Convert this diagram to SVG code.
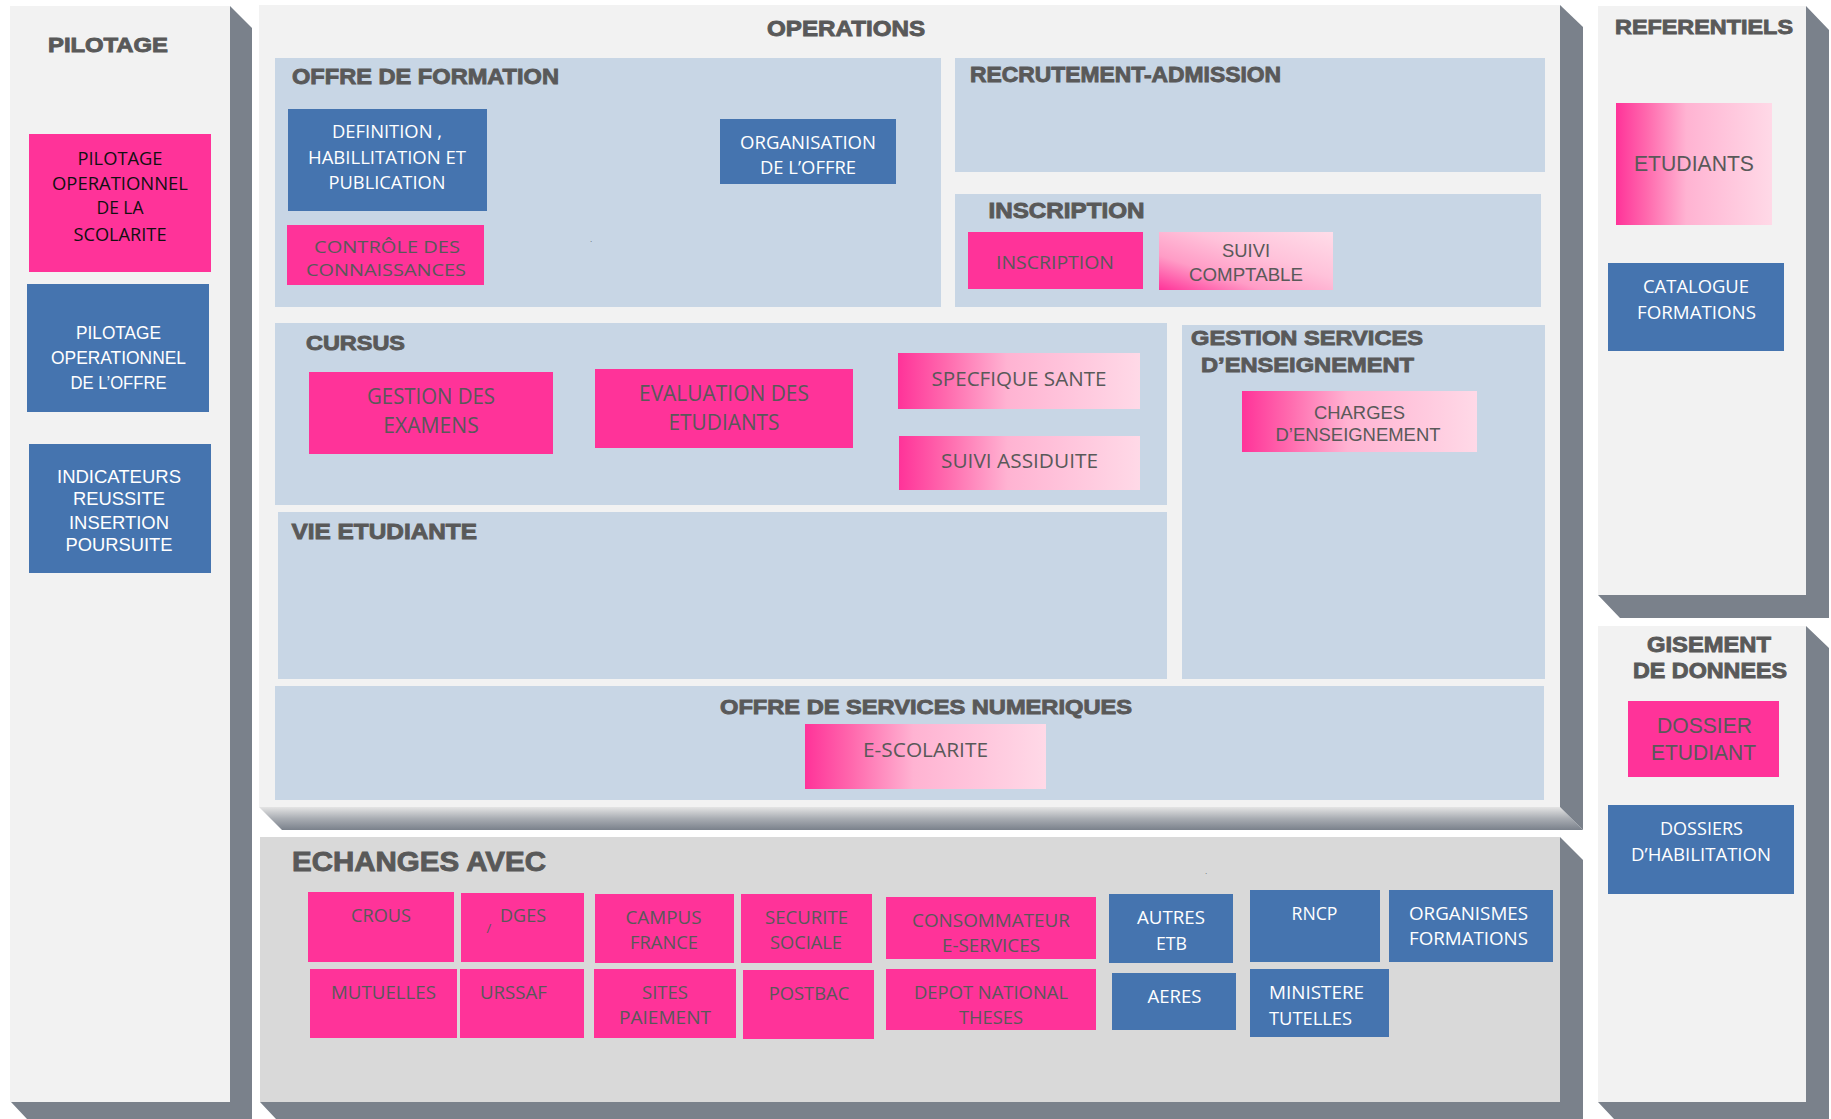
<svg xmlns="http://www.w3.org/2000/svg" width="1831" height="1119" viewBox="0 0 1831 1119">
<defs>
<linearGradient id="gh" x1="0" y1="0" x2="1" y2="0">
<stop offset="0" stop-color="#ff3399"/><stop offset="0.2" stop-color="#ff6aae"/><stop offset="0.45" stop-color="#ffb3d2"/><stop offset="1" stop-color="#ffd9e7"/>
</linearGradient>
<linearGradient id="gd" x1="0" y1="1" x2="1" y2="0">
<stop offset="0" stop-color="#ff3399"/><stop offset="0.3" stop-color="#ff9cc6"/><stop offset="0.6" stop-color="#ffc2da"/><stop offset="1" stop-color="#ffdde9"/>
</linearGradient>
<linearGradient id="gb" x1="0" y1="0" x2="0" y2="1">
<stop offset="0" stop-color="#e4e4e4"/><stop offset="0.5" stop-color="#a9adb3"/><stop offset="1" stop-color="#7a818b"/>
</linearGradient>
<style>
.panel{fill:#f2f2f2}
.shadow{fill:#7a818b}
.sub{fill:#c8d6e5}
.pink{fill:#ff3399}
.blue{fill:#4574af}
.ech{fill:#d9d9d9}
.t{font-family:"Liberation Sans",Arial,sans-serif;font-weight:bold;fill:#595959;stroke:#595959;stroke-width:0.9}
.c{font-family:"Open Sans","Liberation Sans",sans-serif}
.a{font-family:"Liberation Sans",Arial,sans-serif}
.m{text-anchor:middle}
.w{fill:#ffffff}
.g{fill:#595959}
.k{fill:#111111}
</style>
</defs>
<rect width="1831" height="1119" fill="#ffffff"/>

<g id="pilotage">
<polygon class="shadow" points="230,6 252,28 252,1119 27,1119 11,1102 230,1102"/>
<rect class="panel" x="10" y="6" width="220" height="1096"/>
<text class="t" x="48" y="52" font-size="21" textLength="120" lengthAdjust="spacingAndGlyphs">PILOTAGE</text>
</g>
<g id="pilotage-scolarite">
<rect class="pink" x="29" y="134" width="182" height="138"/>
<g class="c k m" font-size="18">
<text x="120" y="164.5" textLength="85" lengthAdjust="spacingAndGlyphs">PILOTAGE</text>
<text x="120" y="190" textLength="136" lengthAdjust="spacingAndGlyphs">OPERATIONNEL</text>
<text x="120" y="214" textLength="47" lengthAdjust="spacingAndGlyphs">DE LA</text>
<text x="120" y="241" textLength="93" lengthAdjust="spacingAndGlyphs">SCOLARITE</text>
</g>
</g>
<g id="pilotage-offre">
<rect class="blue" x="27" y="284" width="182" height="128"/>
<g class="a w m" font-size="17.5">
<text x="118.5" y="339" textLength="85" lengthAdjust="spacingAndGlyphs">PILOTAGE</text>
<text x="118.5" y="364" textLength="135" lengthAdjust="spacingAndGlyphs">OPERATIONNEL</text>
<text x="118.5" y="389" textLength="96" lengthAdjust="spacingAndGlyphs">DE L’OFFRE</text>
</g>
</g>
<g id="indicateurs">
<rect class="blue" x="29" y="444" width="182" height="129"/>
<g class="a w m" font-size="18">
<text x="119" y="483" textLength="124" lengthAdjust="spacingAndGlyphs">INDICATEURS</text>
<text x="119" y="505" textLength="92" lengthAdjust="spacingAndGlyphs">REUSSITE</text>
<text x="119" y="529" textLength="100" lengthAdjust="spacingAndGlyphs">INSERTION</text>
<text x="119" y="551" textLength="107" lengthAdjust="spacingAndGlyphs">POURSUITE</text>
</g>
</g>

<g id="operations">
<polygon fill="url(#gb)" points="259,807 1560,807 1583,830 282,830"/>
<polygon class="shadow" points="1560,5 1583,27 1583,830 1560,807"/>
<rect class="panel" x="259" y="5" width="1301" height="802"/>
<text class="t" x="767" y="36" font-size="22" textLength="158" lengthAdjust="spacingAndGlyphs">OPERATIONS</text>
</g>

<g id="offre-formation">
<rect class="sub" x="275" y="58" width="666" height="249"/>
<text class="t" x="292" y="84" font-size="22" textLength="267" lengthAdjust="spacingAndGlyphs">OFFRE DE FORMATION</text>
<text class="a g" x="590" y="242" font-size="8">.</text>
</g>
<g id="definition">
<rect class="blue" x="288" y="109" width="199" height="102"/>
<g class="c w m" font-size="19">
<text x="387" y="138" textLength="110" lengthAdjust="spacingAndGlyphs">DEFINITION ,</text>
<text x="387" y="164" textLength="158" lengthAdjust="spacingAndGlyphs">HABILLITATION ET</text>
<text x="387" y="189" textLength="117" lengthAdjust="spacingAndGlyphs">PUBLICATION</text>
</g>
</g>
<g id="organisation">
<rect class="blue" x="720" y="119" width="176" height="65"/>
<g class="c w m" font-size="19">
<text x="808" y="149" textLength="136" lengthAdjust="spacingAndGlyphs">ORGANISATION</text>
<text x="808" y="174" textLength="96" lengthAdjust="spacingAndGlyphs">DE L’OFFRE</text>
</g>
</g>
<g id="controle">
<rect class="pink" x="287" y="225" width="197" height="60"/>
<g class="c g m" font-size="17">
<text x="387" y="252.5" textLength="146" lengthAdjust="spacingAndGlyphs">CONTRÔLE DES</text>
<text x="386" y="276" textLength="160" lengthAdjust="spacingAndGlyphs">CONNAISSANCES</text>
</g>
</g>

<g id="recrutement">
<rect class="sub" x="955" y="58" width="590" height="114"/>
<text class="t" x="970" y="82" font-size="22" textLength="311" lengthAdjust="spacingAndGlyphs">RECRUTEMENT-ADMISSION</text>
</g>

<g id="inscription-panel">
<rect class="sub" x="955" y="194" width="586" height="113"/>
<text class="t" x="988.5" y="218" font-size="22" textLength="156" lengthAdjust="spacingAndGlyphs">INSCRIPTION</text>
</g>
<g id="inscription">
<rect class="pink" x="968" y="232" width="175" height="57"/>
<text class="c g m" x="1055" y="269" font-size="18.5" textLength="118" lengthAdjust="spacingAndGlyphs">INSCRIPTION</text>
</g>
<g id="suivi-comptable">
<rect fill="url(#gd)" x="1159" y="232" width="174" height="58"/>
<g class="a g m" font-size="18">
<text x="1246" y="257" textLength="48" lengthAdjust="spacingAndGlyphs">SUIVI</text>
<text x="1246" y="281" textLength="114" lengthAdjust="spacingAndGlyphs">COMPTABLE</text>
</g>
</g>

<g id="cursus">
<rect class="sub" x="275" y="323" width="892" height="182"/>
<text class="t" x="306" y="350" font-size="21" textLength="99" lengthAdjust="spacingAndGlyphs">CURSUS</text>
</g>
<g id="gestion-examens">
<rect class="pink" x="309" y="372" width="244" height="82"/>
<g class="c g m" font-size="21">
<text x="431" y="404" textLength="128" lengthAdjust="spacingAndGlyphs">GESTION DES</text>
<text x="431" y="433" textLength="95.5" lengthAdjust="spacingAndGlyphs">EXAMENS</text>
</g>
</g>
<g id="evaluation">
<rect class="pink" x="595" y="369" width="258" height="79"/>
<g class="c g m" font-size="21">
<text x="724" y="401" textLength="170" lengthAdjust="spacingAndGlyphs">EVALUATION DES</text>
<text x="724" y="430" textLength="111" lengthAdjust="spacingAndGlyphs">ETUDIANTS</text>
</g>
</g>
<g id="specifique-sante">
<rect fill="url(#gh)" x="898" y="353" width="242" height="56"/>
<text class="c g m" x="1019" y="386" font-size="20" textLength="175" lengthAdjust="spacingAndGlyphs">SPECFIQUE SANTE</text>
</g>
<g id="suivi-assiduite">
<rect fill="url(#gh)" x="899" y="436" width="241" height="54"/>
<text class="c g m" x="1019.5" y="468" font-size="20" textLength="157" lengthAdjust="spacingAndGlyphs">SUIVI ASSIDUITE</text>
</g>

<g id="vie-etudiante">
<rect class="sub" x="278" y="512" width="889" height="167"/>
<text class="t" x="291.5" y="539" font-size="22" textLength="185.5" lengthAdjust="spacingAndGlyphs">VIE ETUDIANTE</text>
</g>

<g id="gestion-services">
<rect class="sub" x="1182" y="325" width="363" height="354"/>
<text class="t" x="1191" y="345" font-size="21" textLength="232" lengthAdjust="spacingAndGlyphs">GESTION SERVICES</text>
<text class="t" x="1201" y="372" font-size="21" textLength="213" lengthAdjust="spacingAndGlyphs">D’ENSEIGNEMENT</text>
</g>
<g id="charges">
<rect fill="url(#gh)" x="1242" y="391" width="235" height="61"/>
<g class="a g m" font-size="18.5">
<text x="1359.5" y="419" textLength="91" lengthAdjust="spacingAndGlyphs">CHARGES</text>
<text x="1358" y="441" textLength="165" lengthAdjust="spacingAndGlyphs">D’ENSEIGNEMENT</text>
</g>
</g>

<g id="offre-services">
<rect class="sub" x="275" y="686" width="1269" height="114"/>
<text class="t m" x="926" y="714" font-size="21" textLength="412" lengthAdjust="spacingAndGlyphs">OFFRE DE SERVICES NUMERIQUES</text>
</g>
<g id="e-scolarite">
<rect fill="url(#gh)" x="805" y="724" width="241" height="65"/>
<text class="c g m" x="925.5" y="757" font-size="20" textLength="125" lengthAdjust="spacingAndGlyphs">E-SCOLARITE</text>
</g>

<g id="echanges">
<polygon class="shadow" points="1560,837 1583,860 1583,1119 276,1119 260,1102 1560,1102"/>
<rect class="ech" x="260" y="837" width="1300" height="265"/>
<text class="t" x="292" y="871" font-size="27" textLength="254" lengthAdjust="spacingAndGlyphs">ECHANGES AVEC</text>
<text class="a g" x="1205" y="874" font-size="8">.</text>
</g>
<g class="c g m" font-size="19">
<g id="crous"><rect class="pink" x="308" y="892" width="146" height="70"/><text x="381" y="922" textLength="60" lengthAdjust="spacingAndGlyphs">CROUS</text></g>
<g id="dges"><rect class="pink" x="461" y="893" width="123" height="69"/><text x="489" y="933" font-size="13">/</text><text x="523" y="922" textLength="46" lengthAdjust="spacingAndGlyphs">DGES</text></g>
<g id="campus-france"><rect class="pink" x="595" y="894" width="139" height="69"/><text x="663.5" y="924" textLength="76" lengthAdjust="spacingAndGlyphs">CAMPUS</text><text x="664" y="949" textLength="68" lengthAdjust="spacingAndGlyphs">FRANCE</text></g>
<g id="securite-sociale"><rect class="pink" x="741" y="894" width="131" height="69"/><text x="806.5" y="924" textLength="83" lengthAdjust="spacingAndGlyphs">SECURITE</text><text x="806" y="949" textLength="72" lengthAdjust="spacingAndGlyphs">SOCIALE</text></g>
<g id="consommateur"><rect class="pink" x="886" y="897" width="210" height="62"/><text x="991" y="927" textLength="158" lengthAdjust="spacingAndGlyphs">CONSOMMATEUR</text><text x="991" y="952" textLength="98" lengthAdjust="spacingAndGlyphs">E-SERVICES</text></g>
<g id="mutuelles"><rect class="pink" x="310" y="969" width="147" height="69"/><text x="383.5" y="999" textLength="105" lengthAdjust="spacingAndGlyphs">MUTUELLES</text></g>
<g id="urssaf"><rect class="pink" x="460" y="969" width="124" height="69"/><text x="513.5" y="999" textLength="67" lengthAdjust="spacingAndGlyphs">URSSAF</text></g>
<g id="sites-paiement"><rect class="pink" x="594" y="969" width="142" height="69"/><text x="665" y="999" textLength="46" lengthAdjust="spacingAndGlyphs">SITES</text><text x="665" y="1024" textLength="92" lengthAdjust="spacingAndGlyphs">PAIEMENT</text></g>
<g id="postbac"><rect class="pink" x="743" y="970" width="131" height="69"/><text x="809" y="1000" textLength="80.5" lengthAdjust="spacingAndGlyphs">POSTBAC</text></g>
<g id="depot-theses"><rect class="pink" x="886" y="969" width="210" height="61"/><text x="991" y="999" textLength="154" lengthAdjust="spacingAndGlyphs">DEPOT NATIONAL</text><text x="991" y="1024" textLength="64" lengthAdjust="spacingAndGlyphs">THESES</text></g>
</g>
<g class="c w" font-size="19">
<g id="autres-etb" class="m"><rect class="blue" x="1109" y="894" width="124" height="69"/><text x="1171" y="924" textLength="68" lengthAdjust="spacingAndGlyphs">AUTRES</text><text x="1171.5" y="950" textLength="31" lengthAdjust="spacingAndGlyphs">ETB</text></g>
<g id="aeres" class="m"><rect class="blue" x="1112" y="973" width="124" height="57"/><text x="1174.5" y="1003" textLength="54" lengthAdjust="spacingAndGlyphs">AERES</text></g>
<g id="rncp" class="m"><rect class="blue" x="1250" y="890" width="130" height="72"/><text x="1314.5" y="920" textLength="46" lengthAdjust="spacingAndGlyphs">RNCP</text></g>
<g id="organismes"><rect class="blue" x="1389" y="890" width="164" height="72"/><text x="1409" y="920" textLength="119" lengthAdjust="spacingAndGlyphs">ORGANISMES</text><text x="1409" y="945" textLength="119" lengthAdjust="spacingAndGlyphs">FORMATIONS</text></g>
<g id="ministere"><rect class="blue" x="1250" y="969" width="139" height="68"/><text x="1269" y="999" textLength="95" lengthAdjust="spacingAndGlyphs">MINISTERE</text><text x="1269" y="1025" textLength="83" lengthAdjust="spacingAndGlyphs">TUTELLES</text></g>
</g>

<g id="referentiels">
<polygon class="shadow" points="1806,6 1829,30 1829,618 1620,618 1598,595 1806,595"/>
<rect class="panel" x="1598" y="6" width="208" height="589"/>
<text class="t" x="1615" y="34" font-size="21" textLength="178" lengthAdjust="spacingAndGlyphs">REFERENTIELS</text>
</g>
<g id="etudiants">
<rect fill="url(#gh)" x="1616" y="103" width="156" height="122"/>
<text class="a g m" x="1694" y="171" font-size="21.5" textLength="120" lengthAdjust="spacingAndGlyphs">ETUDIANTS</text>
</g>
<g id="catalogue">
<rect class="blue" x="1608" y="263" width="176" height="88"/>
<g class="c w m" font-size="19">
<text x="1696" y="293" textLength="106" lengthAdjust="spacingAndGlyphs">CATALOGUE</text>
<text x="1696.5" y="319" textLength="119" lengthAdjust="spacingAndGlyphs">FORMATIONS</text>
</g>
</g>

<g id="gisement">
<polygon class="shadow" points="1806,626 1829,648 1829,1119 1614,1119 1598,1102 1806,1102"/>
<rect class="panel" x="1598" y="626" width="208" height="476"/>
<text class="t" x="1647" y="652" font-size="22" textLength="124" lengthAdjust="spacingAndGlyphs">GISEMENT</text>
<text class="t" x="1633" y="678" font-size="22" textLength="154" lengthAdjust="spacingAndGlyphs">DE DONNEES</text>
</g>
<g id="dossier-etudiant">
<rect class="pink" x="1628" y="701" width="151" height="76"/>
<g class="a g m" font-size="22">
<text x="1704.5" y="733" textLength="95" lengthAdjust="spacingAndGlyphs">DOSSIER</text>
<text x="1703.5" y="760" textLength="105" lengthAdjust="spacingAndGlyphs">ETUDIANT</text>
</g>
</g>
<g id="dossiers-habilitation">
<rect class="blue" x="1608" y="805" width="186" height="89"/>
<g class="c w m" font-size="18.5">
<text x="1701.5" y="835" textLength="83" lengthAdjust="spacingAndGlyphs">DOSSIERS</text>
<text x="1701" y="861" textLength="140" lengthAdjust="spacingAndGlyphs">D’HABILITATION</text>
</g>
</g>

<g id="connectors"></g>
</svg>
